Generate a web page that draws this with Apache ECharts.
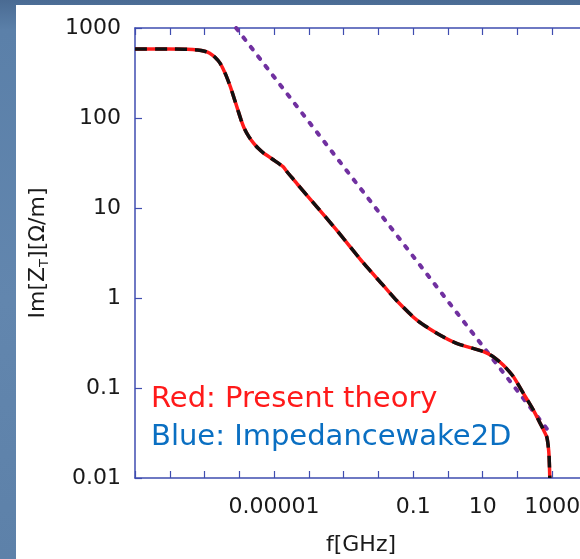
<!DOCTYPE html>
<html>
<head>
<meta charset="utf-8">
<script src="https://cdn.jsdelivr.net/npm/echarts@6/dist/echarts.min.js"></script>
<style>
  body {
    margin: 0;
    width: 580px;
    height: 559px;
    overflow: hidden;
    background: linear-gradient(180deg, #4a6b93 0px, #5b80a9 30px, #6286ae 300px, #5d81a9 559px);
  }
  #chart {
    position: absolute;
    left: 16px;
    top: 5px;
    width: 564px;
    height: 554px;
    background: #ffffff;
  }
</style>
</head>
<body>
<div id="chart"></div>
<script>
// frequency in GHz
const freq = [
  1e-9, 1e-8, 3.16e-8, 6.3e-8, 1e-7, 1.41e-7, 2e-7, 2.82e-7, 3.98e-7, 5.5e-7,
  7.08e-7, 8.9e-7, 1.12e-6, 1.41e-6, 1.9e-6, 2.57e-6, 3.55e-6, 5e-6, 7.08e-6, 1e-5,
  1.41e-5, 1.86e-5, 2.51e-5, 3.55e-5, 4.57e-5, 1.7e-4, 6.3e-4, 3.7e-3, 0.0138, 0.0339,
  0.126, 0.479, 1.78, 10.5, 20, 38.9, 75.9, 148, 282, 447,
  692, 759, 813, 851
]
// Im[Z_T] present theory
const theoryZ = [
  585, 585, 581, 570, 552, 525, 473, 405, 309, 224,
  166, 126, 95.5, 75.9, 61.7, 52.5, 45.7, 40.7, 37.2, 33.9,
  30.9, 28.5, 24.5, 20.9, 18.6, 10.3, 5.68, 2.45, 1.38, 0.933,
  0.57, 0.405, 0.313, 0.254, 0.223, 0.18, 0.134, 0.0871, 0.0575, 0.0407,
  0.0288, 0.0234, 0.0174, 0.01
]
// Impedancewake2D (lies on top of the theory curve)
const wakeZ = [
  585, 585, 581, 570, 552, 525, 473, 405, 309, 224,
  166, 126, 95.5, 75.9, 61.7, 52.5, 45.7, 40.7, 37.2, 33.9,
  30.9, 28.5, 24.5, 20.9, 18.6, 10.3, 5.68, 2.45, 1.38, 0.933,
  0.57, 0.405, 0.313, 0.254, 0.223, 0.18, 0.134, 0.0871, 0.0575, 0.0407,
  0.0288, 0.0234, 0.0174, 0.01
]
// dotted asymptote
const asymFreq = [8.1e-7, 850]
const asymZ = [1000, 0.032]

const xTickExp = [-5, -1, 1, 3]
const xTickText = ['0.00001', '0.1', '10', '1000']
const yTickExp = [-2, -1, 0, 1, 2, 3]
const yTickText = ['0.01', '0.1', '1', '10', '100', '1000']

const axisColor = '#3f4db0'
const font = 'DejaVu Sans'

const pairs = (xs, ys) => xs.map((x, i) => [x, ys[i]])

const labelFor = (exps, texts) => (v) => {
  let e = Math.round(Math.log10(v))
  let i = exps.indexOf(e)
  return i >= 0 ? texts[i] : ''
}

const baseAxis = {
  type: 'log',
  logBase: 10,
  interval: 1,
  axisLine: { lineStyle: { color: axisColor, width: 1.5 } },
  axisTick: { inside: true, length: 7, lineStyle: { color: axisColor, width: 1.2 } },
  splitLine: { show: false },
  minorTick: { show: false }
}

const chart = echarts.init(document.getElementById('chart'))

chart.setOption({
  animation: false,
  grid: { left: 119, top: 23, width: 452, height: 450, outerBoundsMode: 'none', containLabel: false },
  xAxis: [
    Object.assign({}, baseAxis, {
      position: 'bottom',
      min: 1e-9,
      max: 1e4,
      axisLabel: {
        margin: 18,
        fontSize: 22,
        fontFamily: font,
        color: '#1a1a1a',
        formatter: labelFor(xTickExp, xTickText)
      },
      name: 'f[GHz]',
      nameLocation: 'middle',
      nameGap: 56,
      nameTextStyle: { fontSize: 22, fontFamily: font, color: '#1a1a1a' }
    }),
    Object.assign({}, baseAxis, {
      position: 'top',
      min: 1e-9,
      max: 1e4,
      axisLabel: { show: false }
    })
  ],
  yAxis: [
    Object.assign({}, baseAxis, {
      position: 'left',
      min: 0.01,
      max: 1000,
      axisLabel: {
        margin: 14,
        fontSize: 22,
        fontFamily: font,
        color: '#1a1a1a',
        formatter: labelFor(yTickExp, yTickText)
      },
      name: '{a|Im[Z}{s|T}{a|][Ω/m]}',
      nameLocation: 'middle',
      nameGap: 84,
      nameRotate: 90,
      nameTextStyle: {
        rich: {
          a: { fontSize: 22, fontFamily: font, color: '#1a1a1a' },
          s: { fontSize: 13, fontFamily: font, color: '#1a1a1a', padding: [12, 0, 0, 0] }
        }
      }
    }),
    Object.assign({}, baseAxis, {
      position: 'right',
      min: 0.01,
      max: 1000,
      axisLabel: { show: false }
    })
  ],
  graphic: [
    {
      type: 'text',
      left: 135,
      top: 380,
      style: { text: 'Red: Present theory', fill: '#ff1a1a', font: '29px "DejaVu Sans"' }
    },
    {
      type: 'text',
      left: 135,
      top: 418,
      style: { text: 'Blue: Impedancewake2D', fill: '#0a6fc2', font: '29px "DejaVu Sans"' }
    }
  ],
  series: [
    {
      name: 'asymptote',
      type: 'line',
      data: pairs(asymFreq, asymZ),
      showSymbol: false,
      lineStyle: { color: '#7030a0', width: 4, type: [3, 9], cap: 'round' },
      z: 2
    },
    {
      name: 'Present theory',
      type: 'line',
      data: pairs(freq, theoryZ),
      showSymbol: false,
      smooth: 0.2,
      lineStyle: { color: '#ff1a1a', width: 3.5 },
      z: 3
    },
    {
      name: 'Impedancewake2D',
      type: 'line',
      data: pairs(freq, wakeZ),
      showSymbol: false,
      smooth: 0.2,
      lineStyle: { color: '#111111', width: 3.5, type: [12, 8] },
      z: 4
    }
  ]
})
</script>
</body>
</html>
